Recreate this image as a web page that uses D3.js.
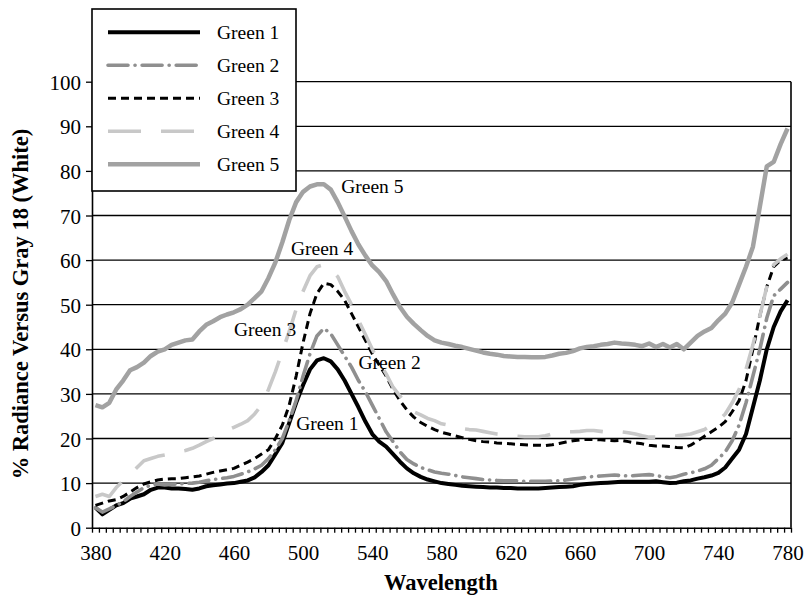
<!DOCTYPE html>
<html lang="en">
<head>
    <meta charset="utf-8">
    <title>% Radiance Versus Gray 18</title>
    <script src="https://cdn.jsdelivr.net/npm/d3@7/dist/d3.min.js"></script>
    <style>
        body { margin: 0; background: #fff; }
    </style>
</head>
<body>
<div id="chart"></div>
<script>
    const wavelengths = [380, 384, 388, 392, 396, 400, 404, 408, 412, 416, 420, 424, 428, 432, 436, 440, 444, 448, 452, 456,
        460, 464, 468, 472, 476, 480, 484, 488, 492, 496, 500, 504, 508, 512, 516, 520, 524, 528, 532, 536,
        540, 544, 548, 552, 556, 560, 564, 568, 572, 576, 580, 584, 588, 592, 596, 600, 604, 608, 612, 616,
        620, 624, 628, 632, 636, 640, 644, 648, 652, 656, 660, 664, 668, 672, 676, 680, 684, 688, 692, 696,
        700, 704, 708, 712, 716, 720, 724, 728, 732, 736, 740, 744, 748, 752, 756, 760, 764, 768, 772, 776, 780];

    const green1 = [4.5, 3, 4, 5, 5.5, 6.5, 7, 7.5, 8.5, 9, 9, 8.8, 8.8, 8.7, 8.5, 8.8, 9.3, 9.5, 9.7, 9.9,
        10, 10.3, 10.6, 11.3, 12.5, 14, 16.5, 19, 23.5, 28, 32, 35.5, 37.5, 38, 37.3, 35.5, 33, 30, 27, 23.8,
        21, 19.3, 18.2, 16.5, 14.8, 13.3, 12.2, 11.4, 10.8, 10.4, 10, 9.8, 9.6, 9.4, 9.3, 9.2, 9.1, 9, 9, 8.9,
        8.9, 8.8, 8.8, 8.8, 8.8, 8.9, 9, 9.1, 9.2, 9.3, 9.6, 9.8, 9.9, 10, 10.1, 10.2, 10.3, 10.3, 10.3, 10.3,
        10.3, 10.4, 10.2, 10, 10.1, 10.4, 10.6, 11, 11.3, 11.7, 12.3, 13.5, 15.5, 17.5, 21, 27, 33, 40, 45, 48.5, 51];

    const green2 = [4.5, 3.5, 4.2, 5, 5.8, 7, 8, 9, 9.5, 9.8, 9.6, 9.7, 9.8, 9.9, 10, 10.2, 10.5, 10.8, 11, 11.2,
        11.5, 12, 12.5, 13.2, 14, 15.5, 17.5, 20, 24, 28.5, 34, 39, 43, 44.7, 43.5, 41, 38.5, 36, 33, 30.5,
        27.5, 24.5, 21.5, 19.3, 17, 15.3, 14.3, 13.5, 13, 12.5, 12.2, 12, 11.7, 11.4, 11.2, 11, 10.8, 10.7, 10.6, 10.5,
        10.5, 10.5, 10.4, 10.4, 10.4, 10.4, 10.5, 10.5, 10.7, 10.9, 11.1, 11.3, 11.5, 11.6, 11.7, 11.8, 11.7, 11.6, 11.7, 11.8,
        11.9, 11.7, 11.4, 11.2, 11.5, 12, 12.3, 12.7, 13.2, 14, 15.5, 17, 19.5, 23, 28, 34, 40, 47, 52, 53.5, 55];

    const green3 = [5, 5.5, 6, 6.3, 7, 8, 9, 9.8, 10.3, 10.7, 10.9, 11, 11, 11.2, 11.4, 11.6, 12, 12.4, 12.7, 13,
        13.3, 14, 14.7, 15.5, 16.5, 17.5, 20, 23, 27.5, 34, 41.5, 48, 52.5, 54.8, 54.5, 53, 51, 48, 45, 42,
        39, 36.5, 34, 31, 28.5, 26.4, 24.8, 23.6, 22.7, 22, 21.4, 21, 20.6, 20.2, 19.8, 19.5, 19.3, 19.2, 19, 18.9,
        18.8, 18.7, 18.6, 18.5, 18.5, 18.4, 18.6, 18.9, 19.2, 19.5, 19.7, 19.8, 19.8, 19.7, 19.6, 19.5, 19.6, 19.3, 19, 18.8,
        18.5, 18.3, 18.3, 18.2, 18, 17.9, 18.5, 19.5, 20.5, 21.5, 22.5, 23.8, 26, 28.5, 33, 40, 47.5, 54, 58.5, 60, 60.5];

    const green4 = [7, 7.5, 7, 9, 10.5, 12, 13.5, 15, 15.5, 16, 16.3, 16.6, 17, 17.3, 17.8, 18.5, 19.3, 20, 21, 21.8,
        22.5, 23.2, 24, 25.5, 27.5, 31, 35, 39.5, 44, 49, 53, 56.5, 58.5, 59, 58, 56.3, 53, 50, 46.5, 43.3,
        40, 37, 34.5, 31.5, 29.5, 27.5, 26, 25.3, 24.5, 24, 23.3, 23, 22.5, 22.2, 22, 21.9, 21.6, 21.3, 21, 20.8,
        20.6, 20.5, 20.4, 20.4, 20.4, 20.6, 21, 21.3, 21.5, 21.5, 21.6, 21.8, 21.8, 21.6, 21.4, 21.3, 21.5, 21.3, 21, 20.6,
        20.3, 20.3, 20.3, 20.5, 20.6, 20.8, 21, 21.5, 22, 23, 24, 25.5, 28, 31, 35.5, 41, 47.5, 54, 59, 60.3, 61.3];

    const green5 = [27.5, 27, 28, 31, 33, 35.3, 36, 37, 38.5, 39.5, 40, 41, 41.5, 42, 42.2, 44, 45.5, 46.3, 47.2, 47.8,
        48.3, 49, 50, 51.5, 53, 56, 59.5, 64, 69, 73, 75.3, 76.5, 77, 77, 75.8, 73, 69.8, 66.5, 63.5, 61,
        58.8, 57.3, 55.3, 52.3, 49.5, 47.3, 45.7, 44.3, 43, 42, 41.5, 41.2, 40.8, 40.5, 40.1, 39.7, 39.3, 39, 38.8, 38.5,
        38.4, 38.3, 38.3, 38.2, 38.2, 38.3, 38.6, 39, 39.2, 39.6, 40.2, 40.5, 40.7, 41, 41.2, 41.5, 41.3, 41.2, 41, 40.7,
        41.3, 40.5, 41.2, 40.4, 41.2, 40, 41.5, 43, 44, 44.8, 46.5, 48, 50.5, 54.5, 58.5, 63, 72, 81, 82, 86, 89.5];

    const seriesNames = ["Green 1", "Green 2", "Green 3", "Green 4", "Green 5"];
    const seriesValues = [green1, green2, green3, green4, green5];
    const yTicks = [0, 10, 20, 30, 40, 50, 60, 70, 80, 90, 100];
    const xLabels = [380, 420, 460, 500, 540, 580, 620, 660, 700, 740, 780];

    // labels written on the curves: [name, wavelength, value]
    const curveLabels = [["Green 5", 540, 76.5], ["Green 4", 511, 62.7], ["Green 3", 478, 44.5],
        ["Green 2", 550, 37.2], ["Green 1", 514, 23.4]];

    const styles = [
        {color: "#000000", width: 4, dash: null, cap: "butt"},
        {color: "#8f8f8f", width: 3.6, dash: "20,7,0.1,7", cap: "round"},
        {color: "#000000", width: 3, dash: "8,5", cap: "butt"},
        {color: "#c8c8c8", width: 3.6, dash: "33,20", cap: "butt"},
        {color: "#a2a2a2", width: 4.5, dash: null, cap: "butt"}
    ];

    const FONT = "'Liberation Serif', 'Times New Roman', serif";

    const W = 809, H = 600;
    const margin = {top: 81.7, right: 18, bottom: 72.3, left: 92};

    const svg = d3.select("#chart").append("svg")
        .attr("width", W).attr("height", H);

    // category axis: each wavelength sits in the middle of a 4 nm slot
    const x = d3.scaleLinear().domain([378, 782]).range([margin.left, W - margin.right]);
    const y = d3.scaleLinear().domain([0, 100]).range([H - margin.bottom, margin.top]);

    function styleAxis(g) {
        g.select(".domain").attr("stroke", "#000").attr("stroke-width", 1.6);
        g.selectAll(".tick line").attr("stroke", "#000").attr("stroke-width", 1.3);
        g.selectAll(".tick text")
            .style("font-family", FONT)
            .style("font-size", "21px")
            .attr("fill", "#000");
    }

    // gridlines
    svg.append("g")
        .selectAll("line").data(yTicks.filter(d => d > 0)).enter().append("line")
        .attr("x1", x.range()[0]).attr("x2", x.range()[1])
        .attr("y1", d => y(d)).attr("y2", d => y(d))
        .attr("stroke", "#000").attr("stroke-width", 1.3);

    // right border
    svg.append("line")
        .attr("x1", x.range()[1]).attr("x2", x.range()[1])
        .attr("y1", y(0)).attr("y2", y(100))
        .attr("stroke", "#000").attr("stroke-width", 1.6);

    // y axis
    svg.append("g")
        .attr("transform", "translate(" + margin.left + ",0)")
        .call(d3.axisLeft(y).tickValues(yTicks).tickSize(6).tickPadding(5).tickSizeOuter(0))
        .call(styleAxis)
        .call(g => g.selectAll("text").attr("dy", "0.36em"));

    // x axis: small ticks at slot edges, labels every 40 nm
    const edges = d3.range(378, 783, 4);
    svg.append("g")
        .attr("transform", "translate(0," + y(0) + ")")
        .call(d3.axisBottom(x).tickValues(edges).tickSize(5).tickSizeOuter(0).tickFormat(""))
        .call(styleAxis);
    svg.append("g")
        .attr("transform", "translate(0," + y(0) + ")")
        .call(d3.axisBottom(x).tickValues(xLabels).tickSize(0).tickPadding(17).tickFormat(d3.format("d")))
        .call(styleAxis)
        .call(g => g.select(".domain").remove());

    // series
    const line = d3.line()
        .x((d, i) => x(wavelengths[i]))
        .y(d => y(d));

    seriesValues.forEach(function (vals, k) {
        const s = styles[k];
        svg.append("path")
            .datum(vals)
            .attr("fill", "none")
            .attr("stroke", s.color)
            .attr("stroke-width", s.width)
            .attr("stroke-dasharray", s.dash)
            .attr("stroke-linecap", s.cap)
            .attr("stroke-linejoin", "round")
            .attr("d", line);
    });

    // labels on the curves
    svg.selectAll("text.curve")
        .data(curveLabels).enter().append("text")
        .attr("class", "curve")
        .attr("x", d => x(d[1])).attr("y", d => y(d[2]))
        .attr("dy", "0.35em")
        .attr("text-anchor", "middle")
        .style("font-family", FONT).style("font-size", "19.5px")
        .text(d => d[0]);

    // legend
    const legend = svg.append("g");
    legend.append("rect")
        .attr("x", 92).attr("y", 9).attr("width", 204).attr("height", 182)
        .attr("fill", "#fff").attr("stroke", "#000").attr("stroke-width", 1.6);
    const rows = legend.selectAll("g.row").data(seriesNames).enter().append("g")
        .attr("class", "row")
        .attr("transform", (d, i) => "translate(0," + (32.3 + i * 33) + ")");
    rows.append("line")
        .attr("x1", 108).attr("x2", 200)
        .attr("stroke", (d, i) => styles[i].color)
        .attr("stroke-width", (d, i) => styles[i].width)
        .attr("stroke-dasharray", (d, i) => styles[i].dash)
        .attr("stroke-linecap", (d, i) => styles[i].cap);
    rows.append("text")
        .attr("x", 217).attr("dy", "0.35em")
        .style("font-family", FONT).style("font-size", "19.5px")
        .text(d => d);

    // axis titles
    svg.append("text")
        .attr("text-anchor", "middle")
        .attr("transform", "translate(28,304) rotate(-90)")
        .style("font-family", FONT).style("font-size", "22.5px").style("font-weight", "bold")
        .text("% Radiance Versus Gray 18 (White)");
    svg.append("text")
        .attr("text-anchor", "middle")
        .attr("x", 441).attr("y", 590)
        .style("font-family", FONT).style("font-size", "22.5px").style("font-weight", "bold")
        .text("Wavelength");
</script>
</body>
</html>
